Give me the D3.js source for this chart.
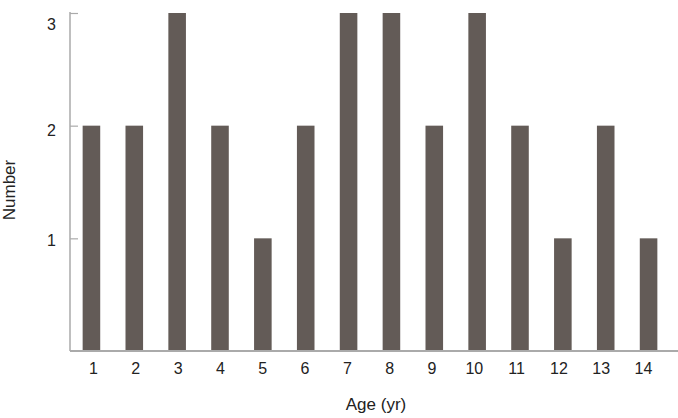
<!DOCTYPE html>
<html>
<head>
<meta charset="utf-8">
<script src="https://cdn.jsdelivr.net/npm/d3@7"></script>
<style>
  body { margin: 0; background: #fff; }
  .chart text { font-family: "Liberation Sans Narrow", "Liberation Sans", Arial, sans-serif; fill: #222; }
</style>
</head>
<body>
<svg class="chart"></svg>
<script>
var ages = [1, 2, 3, 4, 5, 6, 7, 8, 9, 10, 11, 12, 13, 14];
var counts = [2, 2, 3, 2, 1, 2, 3, 3, 2, 3, 2, 1, 2, 1];
var yTicks = [1, 2, 3];

var W = 678, H = 418;
var plotLeft = 70, plotRight = 670, plotTop = 13, plotBottom = 351;

var chart = d3.select(".chart")
    .attr("width", W)
    .attr("height", H);

var xScale = d3.scaleBand()
    .domain(ages)
    .range([plotLeft, plotRight])
    .paddingInner(0.59)
    .paddingOuter(0.295);

// tick labels sit on a slightly tighter spacing than the bars
var labelScale = d3.scalePoint()
    .domain(ages)
    .range([93, 643]);

var yScale = d3.scaleLinear()
    .domain([0, 3])
    .range([plotBottom, plotTop]);

// bars
chart.selectAll(".bar")
    .data(ages)
  .enter().append("rect")
    .attr("class", "bar")
    .attr("x", function(d) { return xScale(d); })
    .attr("width", xScale.bandwidth())
    .attr("y", function(d, i) { return yScale(counts[i]); })
    .attr("height", function(d, i) { return plotBottom - yScale(counts[i]); })
    .style("fill", "#635b57");

// y axis
var yAxis = d3.axisRight(yScale)
    .tickValues(yTicks)
    .tickSize(8)
    .tickFormat(d3.format("d"));

var gy = chart.append("g")
    .attr("transform", "translate(" + plotLeft + ",0)")
    .call(yAxis);
gy.select(".domain").remove();
gy.selectAll("line").attr("stroke", "#aaa").attr("stroke-width", 1.2);
gy.selectAll("text")
    .attr("x", -14)
    .attr("dy", function(d) { return d === 3 ? "1.05em" : (d === 2 ? ".6em" : ".45em"); })
    .style("text-anchor", "end")
    .style("font-size", "16px");

chart.append("line")
    .attr("x1", plotLeft).attr("x2", plotLeft)
    .attr("y1", plotTop - 1).attr("y2", plotBottom)
    .attr("stroke", "#aaa")
    .attr("stroke-width", 1.5);

// x axis
var xAxis = d3.axisBottom(labelScale).tickSize(0).tickPadding(12);
var gx = chart.append("g")
    .attr("transform", "translate(0," + plotBottom + ")")
    .call(xAxis);
gx.select(".domain").remove();
gx.selectAll("text").style("font-size", "16px");

chart.append("line")
    .attr("x1", plotLeft).attr("x2", W)
    .attr("y1", plotBottom).attr("y2", plotBottom)
    .attr("stroke", "#aaa")
    .attr("stroke-width", 2);

// labels
chart.append("text")
    .attr("transform", "translate(15,190) rotate(-90)")
    .style("text-anchor", "middle")
    .style("font-size", "17px")
    .text("Number");

chart.append("text")
    .attr("x", 376)
    .attr("y", 410)
    .style("text-anchor", "middle")
    .style("font-size", "17px")
    .text("Age (yr)");
</script>
</body>
</html>
